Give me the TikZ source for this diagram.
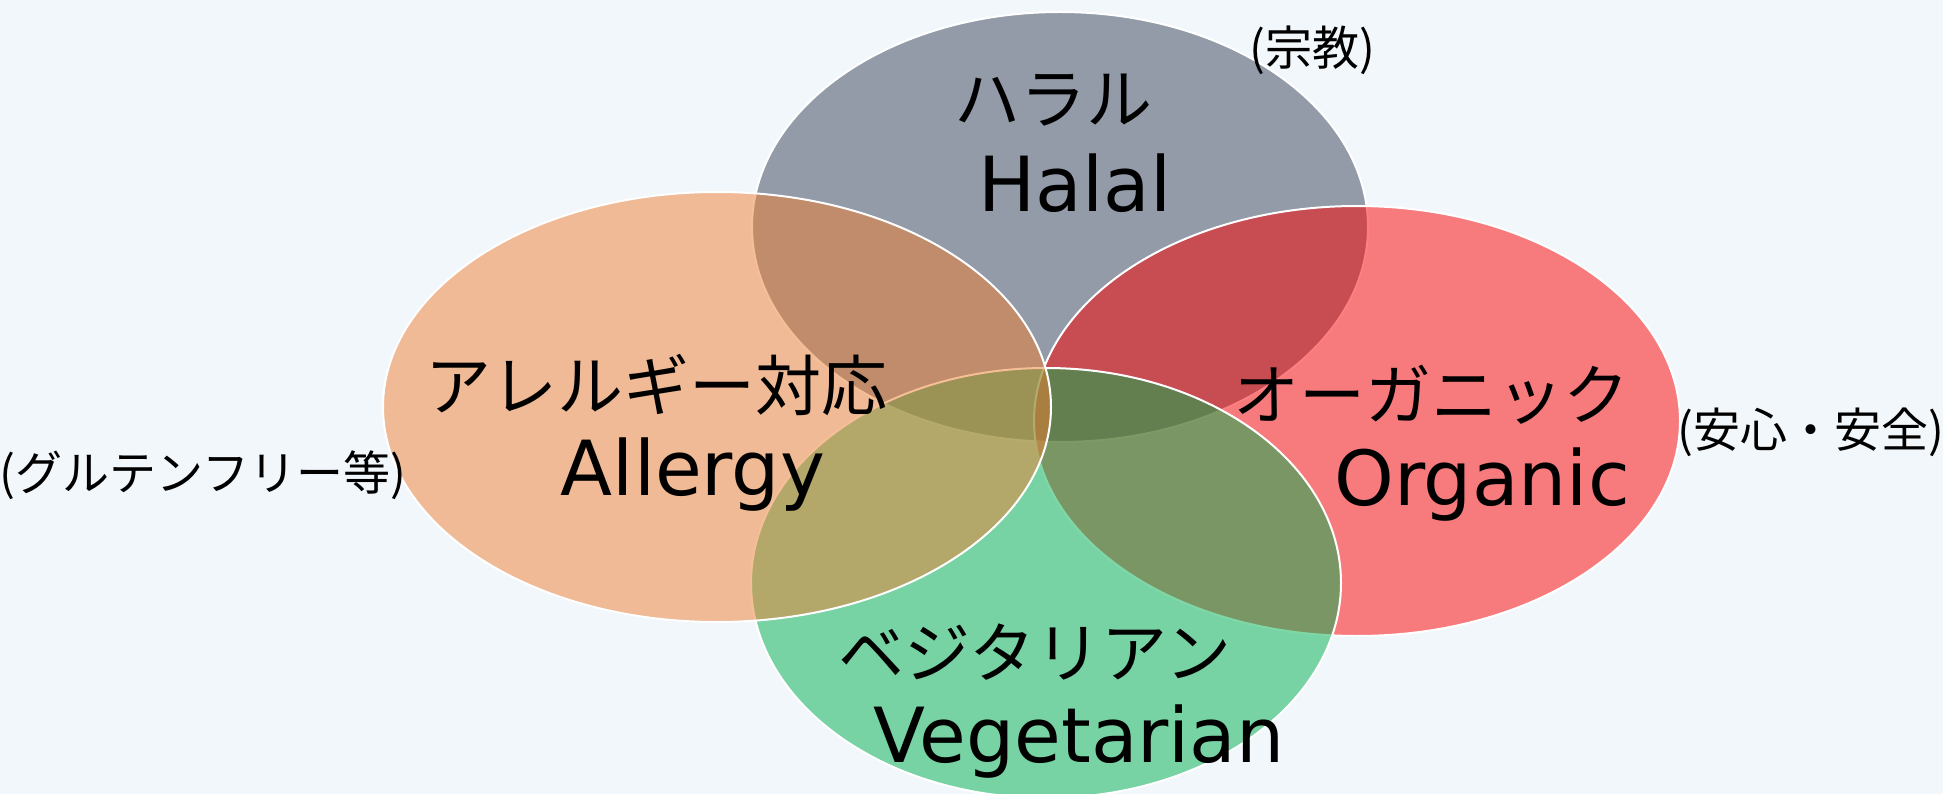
\documentclass[tikz,border=0pt]{standalone}
\usepackage{fontspec}
\setmainfont{DejaVu Sans}
\newfontfamily\jp{Noto Sans CJK JP}
\definecolor{bgc}{HTML}{F2F7FB}
\definecolor{halalc}{RGB}{52,65,85}
\definecolor{organicc}{RGB}{252,0,0}
\definecolor{vegc}{RGB}{0,177,79}
\definecolor{allergyc}{RGB}{238,127,49}
\tikzset{
  venn/.style={fill=#1, fill opacity=0.5, draw=white, draw opacity=1, line width=2pt},
  jplabel/.style={anchor=base, inner sep=0pt, font=\jp\fontsize{66}{78}\selectfont},
  enlabel/.style={anchor=base, inner sep=0pt, font=\fontsize{76}{90}\selectfont},
  note/.style={anchor=base, inner sep=0pt, font=\jp\fontsize{47}{55}\selectfont}
}
\begin{document}
\begin{tikzpicture}[x=1pt,y=-1pt]
\useasboundingbox (0,0) rectangle (1943,794);
\fill[bgc] (0,0) rectangle (1943,794);
% ellipses (drawing order: Halal, Organic, Vegetarian, Allergy)
\path[venn=halalc] (1060,227) ellipse [x radius=308pt, y radius=215pt];
\path[venn=organicc] (1357,421) ellipse [x radius=323pt, y radius=215pt];
\path[venn=vegc] (1046,583) ellipse [x radius=295pt, y radius=215pt];
\path[venn=allergyc] (717,407) ellipse [x radius=334pt, y radius=215pt];
% labels
\node[jplabel] (halaljp) at (1053,124) {ハラル};
\node[enlabel] (halalen) at (1075,212) {Halal};
\node[jplabel] (allergyjp) at (656,410) {アレルギー対応};
\node[enlabel] (allergyen) at (693,495) {Allergy};
\node[jplabel] (organicjp) at (1431,419) {オーガニック};
\node[enlabel] (organicen) at (1482,505) {Organic};
\node[jplabel] (vegjp) at (1035,677) {ベジタリアン};
\node[enlabel] (vegen) at (1079,762) {Vegetarian};
% notes
\node[note] (religion) at (1312,66) {(宗教)};
\node[note] (gluten) at (203,490) {(グルテンフリー等)};
\node[note] (safety) at (1811,447) {(安心・安全)};
\end{tikzpicture}
\end{document}
